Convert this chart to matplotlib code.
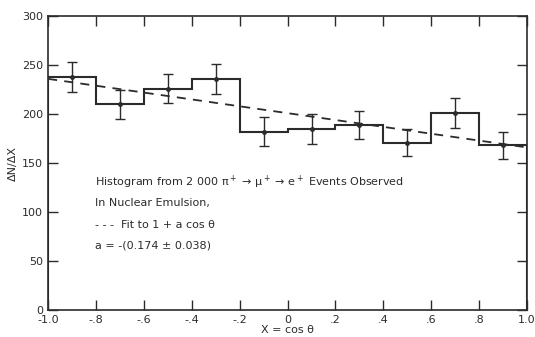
import numpy as np
import matplotlib.pyplot as plt

# histogram of dN/dX in bins of cos(theta)
edges = [-1.0, -0.8, -0.6, -0.4, -0.2, 0.0, 0.2, 0.4, 0.6, 0.8, 1.0]
counts = [238, 210, 226, 236, 182, 185, 189, 171, 201, 168]
errors = [15, 15, 15, 15, 15, 15, 14, 14, 15, 14]
fit_x = [-1.0, 1.0]
fit_y = [236, 166]

xticks = [-1.0, -0.8, -0.6, -0.4, -0.2, 0.0, 0.2, 0.4, 0.6, 0.8, 1.0]
xlabels = ["-1.0", "-.8", "-.6", "-.4", "-.2", "0", ".2", ".4", ".6", ".8", "1.0"]
yticks = [0, 50, 100, 150, 200, 250, 300]

ink = "#2b2b2b"

fig = plt.figure(figsize=(5.35, 3.37), dpi=100)
ax = fig.add_axes([0.09, 0.08, 0.895, 0.872])

ax.stairs(counts, edges, color=ink, lw=1.5)
centers = [(a + b) / 2 for a, b in zip(edges[:-1], edges[1:])]
ax.errorbar(centers, counts, yerr=errors, fmt="o", ms=2.5, color=ink,
            ecolor=ink, elinewidth=1.0, capsize=3.5, capthick=1.0)
ax.plot(fit_x, fit_y, "--", color=ink, lw=1.3, dashes=(5, 4))

ax.set_xlim(-1.0, 1.0)
ax.set_ylim(0, 300)
ax.set_xticks(xticks)
ax.set_xticklabels(xlabels)
ax.set_yticks(yticks)
ax.tick_params(direction="in", length=7, width=1, colors=ink, labelsize=8,
               top=True, right=True, labelright=False, labeltop=False)
for s in ax.spines.values():
    s.set_color(ink)
    s.set_linewidth(1.2)

ax.set_xlabel("X = cos θ", fontsize=8, color=ink, labelpad=0)
ax.set_ylabel("ΔN/ΔX", fontsize=8, color=ink, labelpad=3)

notes = ["Histogram from 2 000 π$^+$ → μ$^+$ → e$^+$ Events Observed",
         "In Nuclear Emulsion,",
         "- - -  Fit to 1 + a cos θ",
         "a = -(0.174 ± 0.038)"]
note_y = [130, 109, 87, 66]
for t, y in zip(notes, note_y):
    ax.text(-0.805, y, t, fontsize=8, color=ink, va="center")

fig.savefig("out.png", dpi=100)
